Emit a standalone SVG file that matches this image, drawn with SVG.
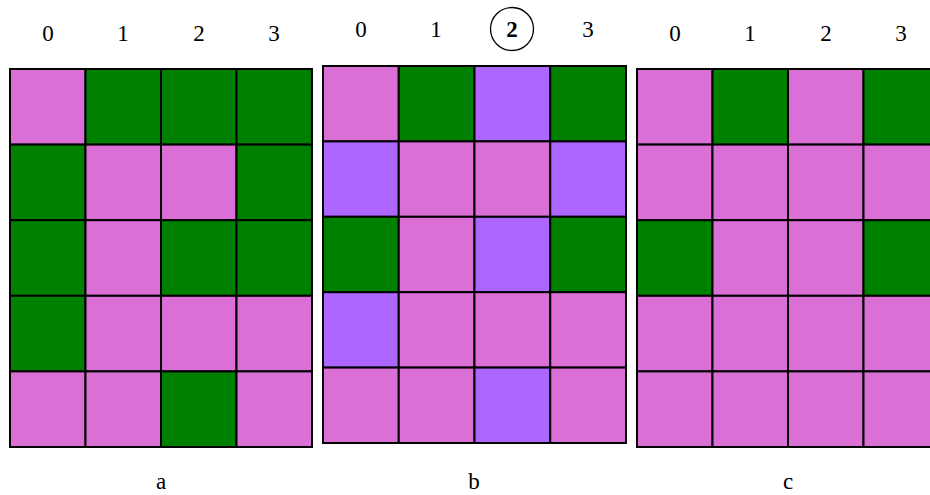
<svg xmlns="http://www.w3.org/2000/svg" width="930" height="495" viewBox="0 0 930 495">
<style>
.p{fill:#DA70D6}
.g{fill:#008000}
.u{fill:#AD66FF}
.c rect{stroke:#000;stroke-width:2}
.t{font-family:'Liberation Serif','Times New Roman','DejaVu Serif',serif;font-size:23px;fill:#000;text-anchor:middle}
</style>
<rect width="930" height="495" fill="#fff"/>
<g id="gridA" class="c">
<rect class="p" x="10" y="69" width="75.5" height="75.6"/>
<rect class="g" x="85.5" y="69" width="75.5" height="75.6"/>
<rect class="g" x="161" y="69" width="75.5" height="75.6"/>
<rect class="g" x="236.5" y="69" width="75.5" height="75.6"/>
<rect class="g" x="10" y="144.6" width="75.5" height="75.6"/>
<rect class="p" x="85.5" y="144.6" width="75.5" height="75.6"/>
<rect class="p" x="161" y="144.6" width="75.5" height="75.6"/>
<rect class="g" x="236.5" y="144.6" width="75.5" height="75.6"/>
<rect class="g" x="10" y="220.2" width="75.5" height="75.6"/>
<rect class="p" x="85.5" y="220.2" width="75.5" height="75.6"/>
<rect class="g" x="161" y="220.2" width="75.5" height="75.6"/>
<rect class="g" x="236.5" y="220.2" width="75.5" height="75.6"/>
<rect class="g" x="10" y="295.8" width="75.5" height="75.6"/>
<rect class="p" x="85.5" y="295.8" width="75.5" height="75.6"/>
<rect class="p" x="161" y="295.8" width="75.5" height="75.6"/>
<rect class="p" x="236.5" y="295.8" width="75.5" height="75.6"/>
<rect class="p" x="10" y="371.4" width="75.5" height="75.6"/>
<rect class="p" x="85.5" y="371.4" width="75.5" height="75.6"/>
<rect class="g" x="161" y="371.4" width="75.5" height="75.6"/>
<rect class="p" x="236.5" y="371.4" width="75.5" height="75.6"/>
<text class="t" x="48" y="41">0</text>
<text class="t" x="123" y="41">1</text>
<text class="t" x="199" y="41">2</text>
<text class="t" x="274" y="41">3</text>
<text class="t" x="161" y="489">a</text>
</g>
<g id="gridB" class="c">
<rect class="p" x="323" y="66" width="75.75" height="75.4"/>
<rect class="g" x="398.75" y="66" width="75.75" height="75.4"/>
<rect class="u" x="474.5" y="66" width="75.75" height="75.4"/>
<rect class="g" x="550.25" y="66" width="75.75" height="75.4"/>
<rect class="u" x="323" y="141.4" width="75.75" height="75.4"/>
<rect class="p" x="398.75" y="141.4" width="75.75" height="75.4"/>
<rect class="p" x="474.5" y="141.4" width="75.75" height="75.4"/>
<rect class="u" x="550.25" y="141.4" width="75.75" height="75.4"/>
<rect class="g" x="323" y="216.8" width="75.75" height="75.4"/>
<rect class="p" x="398.75" y="216.8" width="75.75" height="75.4"/>
<rect class="u" x="474.5" y="216.8" width="75.75" height="75.4"/>
<rect class="g" x="550.25" y="216.8" width="75.75" height="75.4"/>
<rect class="u" x="323" y="292.2" width="75.75" height="75.4"/>
<rect class="p" x="398.75" y="292.2" width="75.75" height="75.4"/>
<rect class="p" x="474.5" y="292.2" width="75.75" height="75.4"/>
<rect class="p" x="550.25" y="292.2" width="75.75" height="75.4"/>
<rect class="p" x="323" y="367.6" width="75.75" height="75.4"/>
<rect class="p" x="398.75" y="367.6" width="75.75" height="75.4"/>
<rect class="u" x="474.5" y="367.6" width="75.75" height="75.4"/>
<rect class="p" x="550.25" y="367.6" width="75.75" height="75.4"/>
<text class="t" x="361" y="37">0</text>
<text class="t" x="436" y="37">1</text>
<circle cx="512" cy="29" r="21.5" fill="none" stroke="#000" stroke-width="1.3"/>
<text class="t" x="512" y="37" font-weight="bold">2</text>
<text class="t" x="588" y="37">3</text>
<text class="t" x="474" y="489">b</text>
</g>
<g id="gridC" class="c">
<rect class="p" x="637" y="69" width="75.5" height="75.6"/>
<rect class="g" x="712.5" y="69" width="75.5" height="75.6"/>
<rect class="p" x="788" y="69" width="75.5" height="75.6"/>
<rect class="g" x="863.5" y="69" width="75.5" height="75.6"/>
<rect class="p" x="637" y="144.6" width="75.5" height="75.6"/>
<rect class="p" x="712.5" y="144.6" width="75.5" height="75.6"/>
<rect class="p" x="788" y="144.6" width="75.5" height="75.6"/>
<rect class="p" x="863.5" y="144.6" width="75.5" height="75.6"/>
<rect class="g" x="637" y="220.2" width="75.5" height="75.6"/>
<rect class="p" x="712.5" y="220.2" width="75.5" height="75.6"/>
<rect class="p" x="788" y="220.2" width="75.5" height="75.6"/>
<rect class="g" x="863.5" y="220.2" width="75.5" height="75.6"/>
<rect class="p" x="637" y="295.8" width="75.5" height="75.6"/>
<rect class="p" x="712.5" y="295.8" width="75.5" height="75.6"/>
<rect class="p" x="788" y="295.8" width="75.5" height="75.6"/>
<rect class="p" x="863.5" y="295.8" width="75.5" height="75.6"/>
<rect class="p" x="637" y="371.4" width="75.5" height="75.6"/>
<rect class="p" x="712.5" y="371.4" width="75.5" height="75.6"/>
<rect class="p" x="788" y="371.4" width="75.5" height="75.6"/>
<rect class="p" x="863.5" y="371.4" width="75.5" height="75.6"/>
<text class="t" x="675" y="41">0</text>
<text class="t" x="750" y="41">1</text>
<text class="t" x="826" y="41">2</text>
<text class="t" x="901" y="41">3</text>
<text class="t" x="788" y="489">c</text>
</g>
</svg>
